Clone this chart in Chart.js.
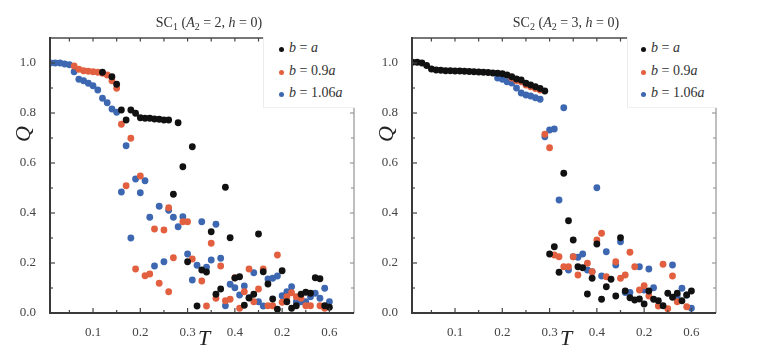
<!DOCTYPE html>
<html><head><meta charset="utf-8">
<script src="https://cdn.jsdelivr.net/npm/chart.js@4"></script>
<style>
html,body{margin:0;padding:0;background:#fff;}
#wrap{position:relative;width:761px;height:358px;overflow:hidden;font-family:"Liberation Serif","DejaVu Serif",serif;color:#222;}
canvas{position:absolute;top:0;}
.c{position:absolute;transform:translate(-50%,-50%);white-space:nowrap;}
.ttl{font-size:14px;color:#333;}
.ttl sub{font-size:10px;vertical-align:-3px;line-height:0;}
.ax{font-size:22px;font-style:italic;color:#222;}
.leg{position:absolute;background:#fff;border-left:1px solid #ececec;border-bottom:1px solid #f0f0f0;}
.li{position:absolute;left:0;font-size:14px;color:#333;white-space:nowrap;}
.dot{position:absolute;width:5px;height:5px;border-radius:50%;}
</style>
</head><body>
<div id="wrap">
<canvas id="cL" width="375" height="358" style="left:0"></canvas>
<canvas id="cR" width="396" height="358" style="left:365px"></canvas>

<div class="c ttl" style="left:209px;top:23px">SC<sub>1</sub> (<i>A</i><sub>2</sub> = 2, <i>h</i> = 0)</div>
<div class="c ttl" style="left:566px;top:23px">SC<sub>2</sub> (<i>A</i><sub>2</sub> = 3, <i>h</i> = 0)</div>
<div class="c ax" style="left:23px;top:134px;transform:translate(-50%,-50%) rotate(-90deg)">Q</div>
<div class="c ax" style="left:386px;top:134px;transform:translate(-50%,-50%) rotate(-90deg)">Q</div>
<div class="c ax" style="left:204px;top:338px">T</div>
<div class="c ax" style="left:566px;top:338px">T</div>

<div class="leg" style="left:263px;top:37px;width:91px;height:70px">
  <div class="dot" style="left:15px;top:10px;background:#111"></div>
  <div class="li" style="left:25px;top:3px"><i>b</i> = <i>a</i></div>
  <div class="dot" style="left:15px;top:33px;background:#e5603f"></div>
  <div class="li" style="left:25px;top:26px"><i>b</i> = 0.9<i>a</i></div>
  <div class="dot" style="left:15px;top:55px;background:#3d67b1"></div>
  <div class="li" style="left:25px;top:48px"><i>b</i> = 1.06<i>a</i></div>
</div>
<div class="leg" style="left:627px;top:37px;width:89px;height:70px">
  <div class="dot" style="left:13px;top:10px;background:#111"></div>
  <div class="li" style="left:23px;top:3px"><i>b</i> = <i>a</i></div>
  <div class="dot" style="left:13px;top:33px;background:#e5603f"></div>
  <div class="li" style="left:23px;top:26px"><i>b</i> = 0.9<i>a</i></div>
  <div class="dot" style="left:13px;top:55px;background:#3d67b1"></div>
  <div class="li" style="left:23px;top:48px"><i>b</i> = 1.06<i>a</i></div>
</div>
</div>
<script>
// ---- tick labels ----
const xTickValues = [0.1, 0.2, 0.3, 0.4, 0.5, 0.6];
const xTickLabels = ["0.1", "0.2", "0.3", "0.4", "0.2", "0.6"];
const yTickValues = [0.0, 0.2, 0.4, 0.6, 0.8, 1.0];
const yTickLabels = ["0.0", "0.2", "0.4", "0.6", "0.8", "1.0"];
const seriesNames = ["b = a", "b = 0.9a", "b = 1.06a"];

// ---- SC1 panel ----
const tL_black = [0.12,0.14,0.15,0.16,0.17,0.18,0.19,0.20,0.21,0.22,0.23,0.24,0.25,0.26,0.27,0.28,0.29,0.30,0.31,0.32,0.33,0.34,0.35,0.36,0.37,0.38,0.39,0.40,0.41,0.42,0.43,0.44,0.45,0.46,0.47,0.48,0.49,0.50,0.51,0.52,0.53,0.54,0.55,0.56,0.57,0.58,0.59,0.60];
const qL_black = [0.963,0.945,0.915,0.812,0.772,0.812,0.799,0.781,0.779,0.779,0.776,0.775,0.772,0.772,0.475,0.761,0.585,0.205,0.665,0.028,0.172,0.164,0.325,0.075,0.096,0.503,0.301,0.14,0.145,0.031,0.06,0.075,0.316,0.165,0.116,0.056,0.015,0.169,0.045,0.019,0.029,0.075,0.083,0.079,0.141,0.137,0.029,0.023];

const tL_red = [0.06,0.07,0.08,0.09,0.10,0.11,0.12,0.13,0.14,0.15,0.16,0.17,0.18,0.19,0.20,0.21,0.22,0.23,0.24,0.25,0.26,0.26,0.27,0.29,0.30,0.31,0.33,0.34,0.35,0.36,0.37,0.38,0.39,0.40,0.41,0.42,0.43,0.44,0.45,0.46,0.47,0.48,0.49,0.50,0.51,0.52,0.53,0.54,0.55,0.56,0.58,0.59];
const qL_red = [0.988,0.975,0.969,0.967,0.965,0.963,0.959,0.952,0.929,0.899,0.755,0.509,0.699,0.176,0.548,0.149,0.156,0.336,0.119,0.332,0.085,0.421,0.221,0.365,0.365,0.216,0.128,0.028,0.279,0.059,0.188,0.049,0.055,0.141,0.019,0.085,0.176,0.045,0.096,0.176,0.029,0.029,0.232,0.043,0.065,0.081,0.065,0.059,0.029,0.029,0.029,0.019];

const tL_blue = [0.01,0.02,0.03,0.04,0.05,0.06,0.07,0.08,0.09,0.10,0.11,0.12,0.13,0.14,0.15,0.16,0.17,0.18,0.19,0.20,0.21,0.22,0.23,0.24,0.25,0.26,0.27,0.28,0.29,0.30,0.31,0.32,0.33,0.34,0.35,0.36,0.37,0.38,0.39,0.40,0.41,0.42,0.43,0.44,0.45,0.46,0.47,0.48,0.49,0.50,0.51,0.52,0.53,0.54,0.55,0.56,0.57,0.58,0.59,0.60];
const qL_blue = [1.0,1.0,1.0,0.996,0.993,0.965,0.935,0.929,0.919,0.909,0.892,0.859,0.841,0.816,0.803,0.484,0.669,0.300,0.536,0.481,0.529,0.383,0.188,0.427,0.205,0.411,0.383,0.345,0.385,0.236,0.132,0.191,0.365,0.183,0.212,0.355,0.219,0.029,0.115,0.101,0.072,0.108,0.061,0.161,0.045,0.028,0.136,0.139,0.148,0.069,0.085,0.105,0.045,0.045,0.045,0.065,0.079,0.059,0.099,0.045];

// ---- SC2 panel ----
const tR_black = [0.01,0.02,0.03,0.04,0.05,0.06,0.07,0.08,0.09,0.10,0.11,0.12,0.13,0.14,0.15,0.16,0.17,0.18,0.19,0.20,0.21,0.22,0.23,0.24,0.25,0.26,0.27,0.28,0.29,0.30,0.31,0.32,0.33,0.34,0.35,0.36,0.37,0.38,0.39,0.40,0.41,0.42,0.43,0.44,0.45,0.46,0.47,0.48,0.49,0.50,0.51,0.52,0.53,0.54,0.55,0.56,0.57,0.58,0.59,0.60];
const qR_black = [1.003,1.003,1.0,0.99,0.976,0.972,0.971,0.969,0.969,0.968,0.968,0.967,0.966,0.965,0.964,0.963,0.962,0.960,0.959,0.957,0.952,0.945,0.936,0.932,0.919,0.912,0.905,0.898,0.888,0.236,0.265,0.163,0.559,0.369,0.292,0.185,0.181,0.076,0.139,0.276,0.055,0.105,0.135,0.068,0.301,0.088,0.061,0.052,0.056,0.036,0.088,0.055,0.049,0.029,0.079,0.063,0.079,0.049,0.072,0.088];

const tR_red = [0.22,0.23,0.24,0.25,0.26,0.27,0.28,0.29,0.30,0.31,0.32,0.33,0.34,0.35,0.36,0.38,0.39,0.40,0.41,0.42,0.44,0.45,0.46,0.47,0.48,0.49,0.50,0.51,0.53,0.54,0.55,0.56,0.57,0.59];
const qR_red = [0.940,0.930,0.925,0.912,0.905,0.898,0.892,0.715,0.661,0.232,0.225,0.185,0.185,0.225,0.152,0.199,0.165,0.292,0.319,0.145,0.205,0.139,0.152,0.243,0.185,0.092,0.109,0.068,0.028,0.195,0.017,0.148,0.045,0.025];

const tR_blue = [0.19,0.20,0.21,0.22,0.23,0.24,0.25,0.26,0.27,0.28,0.29,0.30,0.31,0.32,0.33,0.34,0.35,0.36,0.37,0.38,0.39,0.40,0.41,0.42,0.44,0.45,0.46,0.47,0.49,0.50,0.51,0.52,0.56,0.57,0.58,0.59,0.60];
const qR_blue = [0.940,0.935,0.925,0.920,0.900,0.880,0.872,0.868,0.861,0.855,0.705,0.732,0.736,0.452,0.821,0.172,0.225,0.223,0.236,0.172,0.165,0.501,0.148,0.245,0.192,0.285,0.082,0.082,0.185,0.092,0.176,0.101,0.192,0.068,0.099,0.072,0.019];

const colors = ["#111111", "#e2603f", "#3d67b1"];

function pts(t, q) { return t.map((v, i) => ({x: v, y: q[i]})); }
function ds(name, t, q, c) {
  return {label: name, data: pts(t, q), backgroundColor: c, borderWidth: 0, pointRadius: 3.4, pointHoverRadius: 3.4};
}

function framePlugin(legendLeft) {
  return {
    id: 'frame',
    afterDraw(chart) {
      const ctx = chart.ctx, a = chart.chartArea, xs = chart.scales.x, ys = chart.scales.y;
      ctx.save();
      ctx.lineCap = 'butt';
      ctx.strokeStyle = '#a8a8a8'; ctx.lineWidth = 1.5;
      ctx.beginPath(); ctx.moveTo(a.right, a.top); ctx.lineTo(a.right, a.bottom); ctx.stroke();
      ctx.strokeStyle = '#4a4a4a'; ctx.lineWidth = 1.5;
      ctx.beginPath(); ctx.moveTo(a.left, a.top); ctx.lineTo(legendLeft, a.top); ctx.stroke();
      ctx.strokeStyle = '#3a3a3a'; ctx.lineWidth = 2;
      ctx.beginPath(); ctx.moveTo(a.left, a.top - 1); ctx.lineTo(a.left, a.bottom); ctx.lineTo(a.right, a.bottom); ctx.stroke();
      ctx.lineWidth = 1.2; ctx.strokeStyle = '#444';
      for (let k = 1; k <= 12; k++) {
        const v = k * 0.05; if (v > xs.max) break;
        const px = xs.getPixelForValue(v), major = (k % 2 === 0);
        ctx.beginPath(); ctx.moveTo(px, a.bottom); ctx.lineTo(px, a.bottom - (major ? 5 : 3)); ctx.stroke();
        if (px < legendLeft - 2) { ctx.beginPath(); ctx.moveTo(px, a.top); ctx.lineTo(px, a.top + 3.5); ctx.stroke(); }
      }
      for (let k = 1; k <= 10; k++) {
        const v = k * 0.1, py = ys.getPixelForValue(v), major = (k % 2 === 0);
        ctx.strokeStyle = '#444';
        ctx.beginPath(); ctx.moveTo(a.left, py); ctx.lineTo(a.left + (major ? 5 : 3), py); ctx.stroke();
        if (py > a.top + 72) { ctx.strokeStyle = '#999'; ctx.beginPath(); ctx.moveTo(a.right, py); ctx.lineTo(a.right - (major ? 4 : 3), py); ctx.stroke(); }
      }
      ctx.restore();
    }
  };
}

function makeChart(id, datasets, yWidth, rightPad, legendLeft) {
  return new Chart(document.getElementById(id), {
    type: 'scatter',
    data: {datasets},
    options: {
      responsive: false, animation: false, devicePixelRatio: 1,
      layout: {padding: {top: 38, right: rightPad, left: 0, bottom: 0}},
      plugins: {legend: {display: false}, tooltip: {enabled: false}, title: {display: false}},
      scales: {
        x: {
          type: 'linear', min: 0.009, max: 0.652,
          afterFit: s => { s.height = 45; },
          afterBuildTicks: s => { s.ticks = xTickValues.map(v => ({value: v})); },
          ticks: {callback: (v, i) => xTickLabels[i], font: {family: 'Liberation Serif', size: 13}, color: '#444', padding: 4, maxRotation: 0, autoSkip: false},
          grid: {display: false}, border: {display: false}
        },
        y: {
          type: 'linear', min: 0, max: 1.1,
          afterFit: s => { s.width = yWidth; },
          afterBuildTicks: s => { s.ticks = yTickValues.map(v => ({value: v})); },
          ticks: {callback: (v, i) => yTickLabels[i], font: {family: 'Liberation Serif', size: 13}, color: '#444', padding: 6, autoSkip: false},
          grid: {display: false}, border: {display: false}
        }
      }
    },
    plugins: [framePlugin(legendLeft)]
  });
}

makeChart('cL', [
  ds(seriesNames[0], tL_black, qL_black, colors[0]),
  ds(seriesNames[1], tL_red, qL_red, colors[1]),
  ds(seriesNames[2], tL_blue, qL_blue, colors[2])
], 50, 21, 263);

makeChart('cR', [
  ds(seriesNames[0], tR_black, qR_black, colors[0]),
  ds(seriesNames[1], tR_red, qR_red, colors[1]),
  ds(seriesNames[2], tR_blue, qR_blue, colors[2])
], 47, 45, 262);
</script>
</body></html>
